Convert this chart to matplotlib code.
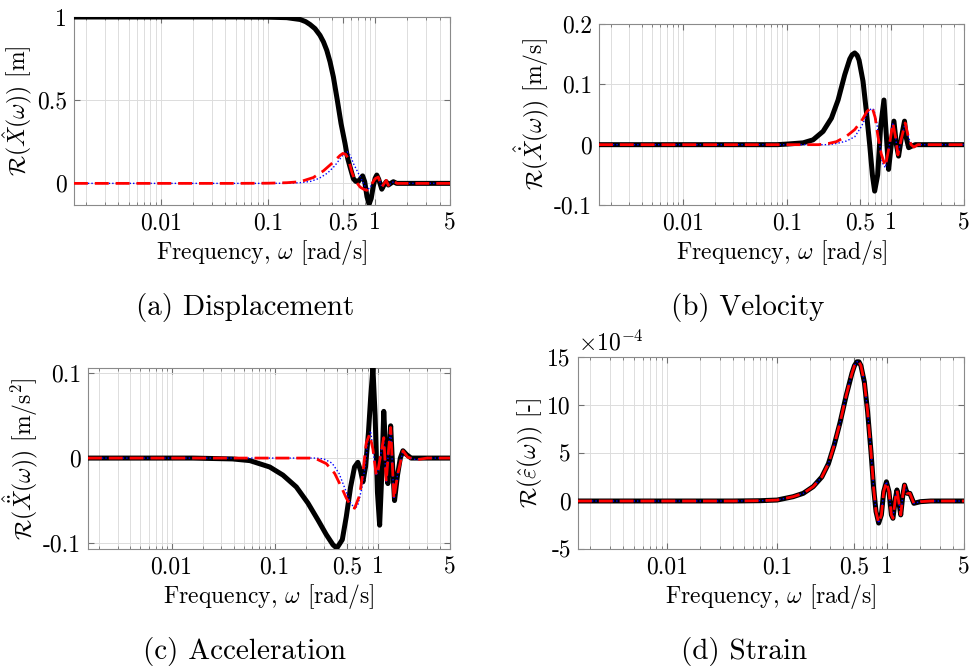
import matplotlib
matplotlib.use('Agg')
import matplotlib.pyplot as plt
from matplotlib.ticker import LogLocator, NullFormatter

plt.rcParams['font.family'] = 'serif'
plt.rcParams['font.serif'] = ['cmr10']
plt.rcParams['mathtext.fontset'] = 'cm'
plt.rcParams['axes.unicode_minus'] = False
plt.rcParams['axes.formatter.use_mathtext'] = True

# frequency ticks shared by every panel
freq_ticks = [0.01, 0.1, 0.5, 1, 5]
freq_tick_labels = ['0.01', '0.1', '0.5', '1', '5']

# (a) displacement
disp_w_exact = [0.00155, 0.05, 0.1, 0.15, 0.2, 0.225, 0.247, 0.275, 0.306, 0.33, 0.354, 0.38, 0.408, 0.444, 0.481,
                0.524, 0.555, 0.584, 0.627, 0.66, 0.698, 0.735, 0.765, 0.8, 0.84, 0.879, 0.92, 0.96, 1.0, 1.037,
                1.08, 1.155, 1.21, 1.27, 1.33, 1.40, 1.48, 1.59, 1.71, 5.0]
disp_exact = [1.0, 1.0, 0.999, 0.996, 0.985, 0.972, 0.955, 0.93, 0.89, 0.85, 0.80, 0.73, 0.64, 0.5, 0.36,
              0.24, 0.15, 0.098, 0.028, 0.012, 0.012, 0.03, 0.045, 0.01, -0.08, -0.125, -0.09, -0.02, 0.03, 0.05,
              0.025, -0.035, -0.01, 0.01, -0.01, 0.0, 0.01, 0.0, 0.0, 0.0]
disp_w_red = [0.00155, 0.05, 0.1, 0.15, 0.2, 0.265, 0.329, 0.408, 0.471, 0.5, 0.53, 0.563, 0.606, 0.65, 0.724,
              0.78, 0.836, 0.9, 0.96, 1.0, 1.07, 1.155, 1.27, 1.33, 1.5, 1.6, 5.0]
disp_red = [0.0, 0.0, 0.001, 0.004, 0.01, 0.035, 0.075, 0.128, 0.168, 0.18, 0.175, 0.148, 0.068, 0.018, -0.022,
            -0.035, -0.042, -0.02, 0.01, 0.028, 0.038, -0.022, 0.018, -0.012, 0.012, 0.0, 0.0]
disp_w_blue = [0.00155, 0.1, 0.15, 0.2, 0.25, 0.3, 0.36, 0.42, 0.48, 0.524, 0.55, 0.59, 0.627, 0.68, 0.724,
               0.78, 0.836, 0.9, 0.96, 1.0, 1.07, 1.155, 1.27, 1.33, 1.5, 1.6, 5.0]
disp_blue = [0.0, 0.0, 0.001, 0.004, 0.012, 0.03, 0.062, 0.105, 0.155, 0.185, 0.19, 0.165, 0.12, 0.075, 0.04,
             0.0, -0.04, -0.025, 0.01, 0.028, 0.038, -0.022, 0.018, -0.012, 0.012, 0.0, 0.0]

# (b) velocity
vel_w_exact = [0.00155, 0.08, 0.1, 0.142, 0.177, 0.221, 0.266, 0.308, 0.357, 0.399, 0.42, 0.445, 0.47, 0.49,
               0.535, 0.576, 0.62, 0.658, 0.692, 0.74, 0.79, 0.85, 0.9, 0.942, 1.0, 1.06, 1.12, 1.175, 1.26, 1.34,
               1.4, 1.47, 1.55, 1.7, 5.0]
vel_exact = [0.0, 0.0, 0.001, 0.003, 0.008, 0.022, 0.044, 0.074, 0.116, 0.142, 0.149, 0.152, 0.148, 0.14,
             0.105, 0.055, 0.0, -0.05, -0.077, -0.05, 0.03, 0.074, 0.01, -0.041, 0.0, 0.039, 0.0, -0.019, 0.015,
             0.039, 0.01, -0.005, -0.003, 0.0, 0.0]
vel_w_red = [0.00155, 0.2, 0.25, 0.297, 0.371, 0.445, 0.516, 0.584, 0.652, 0.7, 0.744, 0.8, 0.876, 0.95, 1.036,
             1.1, 1.157, 1.25, 1.36, 1.45, 1.55, 1.65, 1.8, 5.0]
vel_red = [0.0, 0.0, 0.002, 0.005, 0.014, 0.025, 0.039, 0.055, 0.063, 0.045, 0.014, -0.015, -0.036, -0.005, 0.036,
           0.012, -0.017, 0.01, 0.036, 0.015, 0.0, -0.004, 0.0, 0.0]
vel_w_blue = [0.00155, 0.25, 0.3, 0.37, 0.445, 0.516, 0.584, 0.64, 0.68, 0.72, 0.76, 0.82, 0.876, 0.95, 1.036,
              1.1, 1.157, 1.25, 1.36, 1.45, 1.55, 1.65, 1.8, 5.0]
vel_blue = [0.0, 0.0, 0.002, 0.006, 0.013, 0.03, 0.05, 0.06, 0.058, 0.04, 0.01, -0.03, -0.038, -0.005, 0.036,
            0.012, -0.017, 0.01, 0.036, 0.015, 0.0, -0.004, 0.0, 0.0]

# (c) acceleration
acc_w_exact = [0.00155, 0.016, 0.039, 0.0575, 0.0895, 0.12, 0.162, 0.21, 0.263, 0.316, 0.367, 0.40, 0.452, 0.494,
               0.544, 0.594, 0.64, 0.68, 0.716, 0.76, 0.81, 0.85, 0.895, 0.94, 0.99, 1.04, 1.09, 1.14, 1.2, 1.25,
               1.29, 1.33, 1.39, 1.45, 1.55, 1.65, 1.75, 1.9, 2.1, 2.5, 5.0]
acc_exact = [0.0, 0.0, -0.001, -0.003, -0.0105, -0.02, -0.034, -0.053, -0.073, -0.09, -0.102, -0.106, -0.096, -0.069,
             -0.034, -0.0105, -0.005, -0.015, -0.028, -0.01, 0.03, 0.07, 0.106, 0.05, -0.04, -0.079, -0.02, 0.055, 0.0,
             -0.03, 0.005, 0.038, -0.01, -0.05, -0.02, 0.0, 0.0086, 0.004, 0.0, 0.0, 0.0]
acc_w_red = [0.00155, 0.22, 0.253, 0.316, 0.381, 0.442, 0.494, 0.552, 0.595, 0.665, 0.716, 0.772, 0.831, 0.895,
             0.965, 1.0, 1.07, 1.14, 1.205, 1.27, 1.33, 1.43, 1.55, 1.75, 1.95, 2.35, 3.0, 5.0]
acc_red = [0.0, 0.0, -0.001, -0.0065, -0.018, -0.034, -0.047, -0.057, -0.059, -0.044, -0.017, 0.018, 0.028, 0.0105,
           -0.0205, -0.015, 0.005, 0.024, -0.028, 0.01, 0.036, -0.048, -0.02, 0.0086, 0.001, -0.002, 0.0, 0.0]
acc_w_blue = [0.00155, 0.25, 0.3, 0.36, 0.42, 0.48, 0.54, 0.6, 0.64, 0.7, 0.75, 0.8, 0.85, 0.895,
              0.965, 1.0, 1.07, 1.14, 1.205, 1.27, 1.33, 1.43, 1.55, 1.75, 1.95, 2.35, 3.0, 5.0]
acc_blue = [0.0, 0.0, -0.001, -0.006, -0.018, -0.036, -0.052, -0.06, -0.055, -0.035, -0.01, 0.02, 0.032, 0.0105,
            -0.0205, -0.015, 0.005, 0.024, -0.028, 0.01, 0.036, -0.048, -0.02, 0.0086, 0.001, -0.002, 0.0, 0.0]

# (d) strain, in units of 1e-4 (all three curves coincide)
strain_w = [0.00155, 0.04, 0.0695, 0.1, 0.14, 0.173, 0.213, 0.255, 0.293, 0.33, 0.374, 0.425, 0.479, 0.505, 0.532,
            0.555, 0.578, 0.621, 0.665, 0.714, 0.755, 0.793, 0.838, 0.887, 0.931, 0.986, 1.04, 1.094, 1.13, 1.19,
            1.23, 1.29, 1.33, 1.39, 1.44, 1.52, 1.61, 1.75, 2.01, 2.49, 5.0]
strain_e4 = [0.0, 0.0, 0.03, 0.1, 0.45, 0.8, 1.5, 2.5, 3.9, 5.8, 8.2, 11.0, 13.3, 14.1, 14.5,
             14.5, 14.1, 12.4, 9.3, 5.1, 1.3, -1.1, -2.3, -1.45, 0.97, 2.0, 0.97, -1.45, -1.8, 0.28,
             1.15, -0.4, -1.45, 0.62, 1.66, 0.8, 0.8, -0.24, -0.07, 0.0, 0.0]

W, H = 970, 667
FS = 17
fig = plt.figure(figsize=(W / 100, H / 100), dpi=100)


def px_axes(left, top, right, bottom):
    return fig.add_axes([left / W, 1 - bottom / H, (right - left) / W, (bottom - top) / H])


def style_axes(ax, yticks, ylabels, ylim, ylabel):
    ax.set_xscale('log')
    ax.set_xlim(0.00155, 5)
    ax.set_ylim(*ylim)
    ax.set_xticks(freq_ticks)
    ax.set_xticklabels(freq_tick_labels)
    ax.xaxis.set_minor_locator(LogLocator(base=10, subs=range(2, 10), numticks=20))
    ax.xaxis.set_minor_formatter(NullFormatter())
    ax.set_yticks(yticks)
    ax.set_yticklabels(ylabels)
    ax.grid(True, which='both', axis='x', color='#d8d8d8', lw=0.6)
    ax.grid(True, which='major', axis='y', color='#dcdcdc', lw=0.7)
    ax.set_axisbelow(True)
    ax.tick_params(which='both', direction='in', top=True, right=True, color='#707070', labelsize=FS)
    ax.tick_params(which='major', length=4, pad=5)
    ax.tick_params(which='minor', length=2)
    for sp in ax.spines.values():
        sp.set_color('#8a8a8a')
        sp.set_linewidth(0.8)
    ax.set_xlabel(r'Frequency, $\omega$ [rad/s]', fontsize=FS, labelpad=3)
    ax.set_ylabel(ylabel, fontsize=FS, labelpad=2)


def draw(ax, w_k, y_k, w_r, y_r, w_b, y_b):
    ax.plot(w_k, y_k, color='black', lw=3.6, solid_joinstyle='round', zorder=3)
    ax.plot(w_b, y_b, color='blue', lw=1.0, ls=(0, (1, 1.5)), zorder=4)
    ax.plot(w_r, y_r, color='red', lw=2.0, ls=(0, (5, 2.5)), zorder=5)


ax_a = px_axes(74, 17, 450, 205)
draw(ax_a, disp_w_exact, disp_exact, disp_w_red, disp_red, disp_w_blue, disp_blue)
style_axes(ax_a, [0, 0.5, 1], ['0', '0.5', '1'], (-0.13, 1.0), r'$\mathcal{R}(\hat{X}(\omega))$ [m]')

ax_b = px_axes(599, 24, 964, 205)
draw(ax_b, vel_w_exact, vel_exact, vel_w_red, vel_red, vel_w_blue, vel_blue)
style_axes(ax_b, [-0.1, 0, 0.1, 0.2], ['-0.1', '0', '0.1', '0.2'], (-0.1, 0.2),
           r'$\mathcal{R}(\hat{\dot{X}}(\omega))$ [m/s]')

ax_c = px_axes(88, 368, 450, 549)
draw(ax_c, acc_w_exact, acc_exact, acc_w_red, acc_red, acc_w_blue, acc_blue)
style_axes(ax_c, [-0.1, 0, 0.1], ['-0.1', '0', '0.1'], (-0.107, 0.106),
           r'$\mathcal{R}(\hat{\ddot{X}}(\omega))$ [m/s$^2$]')

ax_d = px_axes(578, 357, 964, 549)
draw(ax_d, strain_w, strain_e4, strain_w, strain_e4, strain_w, strain_e4)
style_axes(ax_d, [-5, 0, 5, 10, 15], ['-5', '0', '5', '10', '15'], (-5, 15),
           r'$\mathcal{R}(\hat{\varepsilon}(\omega))$ [-]')
ax_d.text(0.0, 1.01, r'$\times 10^{-4}$', transform=ax_d.transAxes, fontsize=FS, ha='left', va='bottom')

captions = [('(a) Displacement', 245, 307), ('(b) Velocity', 748, 307),
            ('(c) Acceleration', 245, 652), ('(d) Strain', 744, 652)]
for text, cx, cy in captions:
    fig.text(cx / W, 1 - cy / H, text, fontsize=21, ha='center', va='center')

fig.savefig('out.png', dpi=100)
